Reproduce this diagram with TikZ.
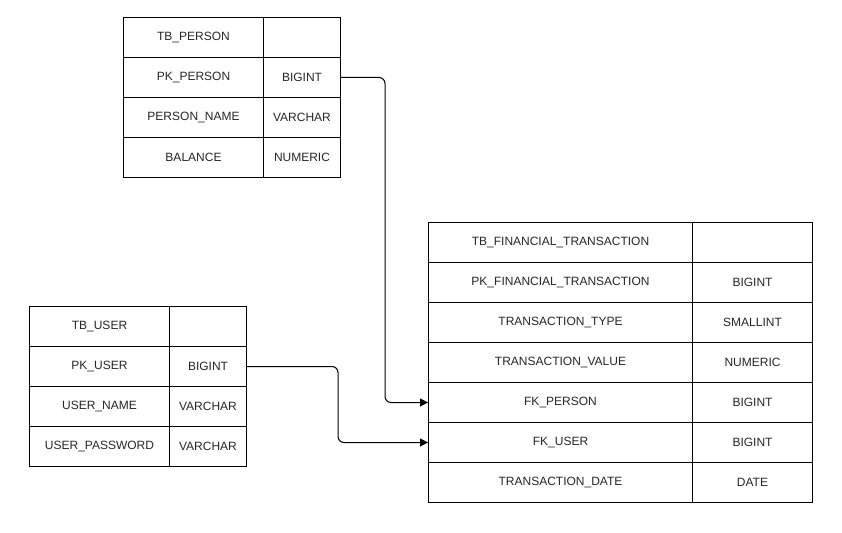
\documentclass[tikz,border=0pt]{standalone}
\usepackage{fontspec}
\setmainfont{Liberation Sans}
\usetikzlibrary{arrows.meta}
\begin{document}
\begin{tikzpicture}[x=1pt,y=-1pt,
  cell/.style={draw=black, line width=1pt, minimum height=40pt, anchor=north west, inner sep=0pt, font=\fontsize{12}{14}\selectfont, text=black!85},
  conn/.style={draw=black, line width=1pt, rounded corners=6pt, -{Triangle[length=8pt,width=8pt]}}]
\useasboundingbox (0,0) rectangle (842,532);
% TB_PERSON
\node[cell, minimum width=140pt] (p1) at (123,17) {TB\_PERSON};
\node[cell, minimum width=77pt] (p1t) at (263,17) {};
\node[cell, minimum width=140pt] (p2) at (123,57) {PK\_PERSON};
\node[cell, minimum width=77pt] (p2t) at (263,57) {BIGINT};
\node[cell, minimum width=140pt] (p3) at (123,97) {PERSON\_NAME};
\node[cell, minimum width=77pt] (p3t) at (263,97) {VARCHAR};
\node[cell, minimum width=140pt] (p4) at (123,137) {BALANCE};
\node[cell, minimum width=77pt] (p4t) at (263,137) {NUMERIC};
% TB_USER
\node[cell, minimum width=140pt] (u1) at (29,306) {TB\_USER};
\node[cell, minimum width=77pt] (u1t) at (169,306) {};
\node[cell, minimum width=140pt] (u2) at (29,346) {PK\_USER};
\node[cell, minimum width=77pt] (u2t) at (169,346) {BIGINT};
\node[cell, minimum width=140pt] (u3) at (29,386) {USER\_NAME};
\node[cell, minimum width=77pt] (u3t) at (169,386) {VARCHAR};
\node[cell, minimum width=140pt] (u4) at (29,426) {USER\_PASSWORD};
\node[cell, minimum width=77pt] (u4t) at (169,426) {VARCHAR};
% TB_FINANCIAL_TRANSACTION
\node[cell, minimum width=264pt] (f1) at (428,222) {TB\_FINANCIAL\_TRANSACTION};
\node[cell, minimum width=120pt] (f1t) at (692,222) {};
\node[cell, minimum width=264pt] (f2) at (428,262) {PK\_FINANCIAL\_TRANSACTION};
\node[cell, minimum width=120pt] (f2t) at (692,262) {BIGINT};
\node[cell, minimum width=264pt] (f3) at (428,302) {TRANSACTION\_TYPE};
\node[cell, minimum width=120pt] (f3t) at (692,302) {SMALLINT};
\node[cell, minimum width=264pt] (f4) at (428,342) {TRANSACTION\_VALUE};
\node[cell, minimum width=120pt] (f4t) at (692,342) {NUMERIC};
\node[cell, minimum width=264pt] (f5) at (428,382) {FK\_PERSON};
\node[cell, minimum width=120pt] (f5t) at (692,382) {BIGINT};
\node[cell, minimum width=264pt] (f6) at (428,422) {FK\_USER};
\node[cell, minimum width=120pt] (f6t) at (692,422) {BIGINT};
\node[cell, minimum width=264pt] (f7) at (428,462) {TRANSACTION\_DATE};
\node[cell, minimum width=120pt] (f7t) at (692,462) {DATE};
% connectors
\draw[conn] (p2t.east) -- ++(44,0) |- (f5.west);
\draw[conn] (u2t.east) -- ++(91,0) |- (f6.west);
\end{tikzpicture}
\end{document}
